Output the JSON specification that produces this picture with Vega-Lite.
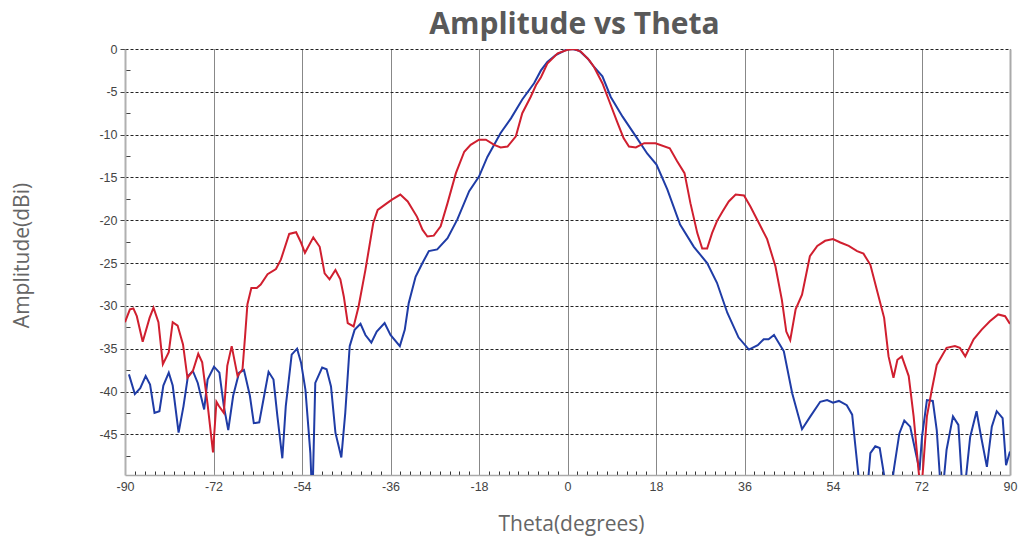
{
 "$schema": "https://vega.github.io/schema/vega-lite/v6.json",
 "width": 885, "height": 426,
 "autosize": {"type": "none"},
 "padding": {"left": 125, "top": 49, "right": 14, "bottom": 64},
 "background": "white",
 "title": {"text": "Amplitude vs Theta", "font": "Open Sans", "fontSize": 30, "fontWeight": "bold", "color": "#595959", "anchor": "middle", "frame": "group", "baseline": "alphabetic", "offset": 16, "dx": 7, "dy": 37},
 "config": {"view": {"stroke": null}},
 "datasets": {
  "red": [
   {"theta":-90,"amp":-31.9},{"theta":-89,"amp":-30.4},{"theta":-88.3,"amp":-30.3},{"theta":-87.6,"amp":-31.2},{"theta":-86.4,"amp":-34.2},{"theta":-85,"amp":-31.4},{"theta":-84.2,"amp":-30.2},{"theta":-83.2,"amp":-31.9},{"theta":-82.3,"amp":-36.8},{"theta":-81.1,"amp":-35.4},{"theta":-80.3,"amp":-31.9},{"theta":-79.3,"amp":-32.3},{"theta":-78.2,"amp":-34.5},{"theta":-77.3,"amp":-38.4},{"theta":-76.2,"amp":-37.6},{"theta":-75.1,"amp":-35.6},{"theta":-74.3,"amp":-36.6},{"theta":-73.2,"amp":-41.5},{"theta":-72.1,"amp":-47.1},{"theta":-71.4,"amp":-41.2},{"theta":-70.9,"amp":-41.7},{"theta":-69.9,"amp":-42.5},{"theta":-69.2,"amp":-37.0},{"theta":-68.3,"amp":-34.7},{"theta":-67.1,"amp":-38.2},{"theta":-66.1,"amp":-37.4},{"theta":-65.6,"amp":-33.7},{"theta":-65.1,"amp":-29.8},{"theta":-64.3,"amp":-27.9},{"theta":-63.2,"amp":-27.9},{"theta":-62.4,"amp":-27.5},{"theta":-61.0,"amp":-26.3},{"theta":-59.3,"amp":-25.7},{"theta":-58.3,"amp":-24.6},{"theta":-56.6,"amp":-21.6},{"theta":-55.2,"amp":-21.4},{"theta":-54.2,"amp":-22.6},{"theta":-53.4,"amp":-23.8},{"theta":-51.7,"amp":-22.0},{"theta":-50.4,"amp":-23.1},{"theta":-49.4,"amp":-26.2},{"theta":-48.4,"amp":-26.9},{"theta":-47.2,"amp":-25.8},{"theta":-46.2,"amp":-26.9},{"theta":-45.5,"amp":-28.9},{"theta":-44.7,"amp":-32.0},{"theta":-43.5,"amp":-32.4},{"theta":-42.5,"amp":-30.1},{"theta":-41.1,"amp":-25.8},{"theta":-39.5,"amp":-20.3},{"theta":-38.6,"amp":-18.8},{"theta":-36.7,"amp":-18.0},{"theta":-35.7,"amp":-17.6},{"theta":-34.0,"amp":-17.0},{"theta":-32.5,"amp":-17.8},{"theta":-30.6,"amp":-19.6},{"theta":-29.5,"amp":-21.1},{"theta":-28.5,"amp":-21.9},{"theta":-27.2,"amp":-21.8},{"theta":-25.8,"amp":-20.7},{"theta":-24.4,"amp":-18.0},{"theta":-22.7,"amp":-14.5},{"theta":-21.0,"amp":-12.0},{"theta":-19.7,"amp":-11.2},{"theta":-18.0,"amp":-10.6},{"theta":-16.6,"amp":-10.6},{"theta":-14.9,"amp":-11.2},{"theta":-13.6,"amp":-11.5},{"theta":-12.2,"amp":-11.4},{"theta":-10.5,"amp":-10.2},{"theta":-9.2,"amp":-7.5},{"theta":-7.5,"amp":-5.6},{"theta":-6.4,"amp":-4.2},{"theta":-5.4,"amp":-3.3},{"theta":-4.1,"amp":-1.7},{"theta":-2.0,"amp":-0.5},{"theta":0,"amp":-0.1},{"theta":1.4,"amp":0},{"theta":2.7,"amp":-0.3},{"theta":4.4,"amp":-1.3},{"theta":5.4,"amp":-2.1},{"theta":7.1,"amp":-4.0},{"theta":8.5,"amp":-6.1},{"theta":10.1,"amp":-8.5},{"theta":11.4,"amp":-10.4},{"theta":12.5,"amp":-11.4},{"theta":13.9,"amp":-11.5},{"theta":15.6,"amp":-11.0},{"theta":17.9,"amp":-11.0},{"theta":20.8,"amp":-11.6},{"theta":22.3,"amp":-13.1},{"theta":23.8,"amp":-14.5},{"theta":25.0,"amp":-18.0},{"theta":26.4,"amp":-21.5},{"theta":27.4,"amp":-23.3},{"theta":28.4,"amp":-23.3},{"theta":29.4,"amp":-21.5},{"theta":30.4,"amp":-20.1},{"theta":31.5,"amp":-19.0},{"theta":32.8,"amp":-17.8},{"theta":34.2,"amp":-17.0},{"theta":35.9,"amp":-17.1},{"theta":37.2,"amp":-18.4},{"theta":38.9,"amp":-20.3},{"theta":40.6,"amp":-22.2},{"theta":42.3,"amp":-25.4},{"theta":43.6,"amp":-29.3},{"theta":44.5,"amp":-33.0},{"theta":45.3,"amp":-34.0},{"theta":46.4,"amp":-30.4},{"theta":47.7,"amp":-28.7},{"theta":49.3,"amp":-24.2},{"theta":50.8,"amp":-23.0},{"theta":52.4,"amp":-22.4},{"theta":54.0,"amp":-22.2},{"theta":55.5,"amp":-22.6},{"theta":57.2,"amp":-23.0},{"theta":58.9,"amp":-23.6},{"theta":60.2,"amp":-23.9},{"theta":61.6,"amp":-25.2},{"theta":62.9,"amp":-28.1},{"theta":64.4,"amp":-31.4},{"theta":65.3,"amp":-35.9},{"theta":66.3,"amp":-38.4},{"theta":67.1,"amp":-36.3},{"theta":68.0,"amp":-35.9},{"theta":69.4,"amp":-38.2},{"theta":70.4,"amp":-42.9},{"theta":71.4,"amp":-49.2},{"theta":71.9,"amp":-52},{"theta":72.4,"amp":-48.4},{"theta":73.1,"amp":-42.9},{"theta":74.1,"amp":-39.8},{"theta":75.1,"amp":-36.9},{"theta":77.1,"amp":-34.9},{"theta":78.8,"amp":-34.7},{"theta":79.8,"amp":-34.9},{"theta":80.9,"amp":-35.9},{"theta":82.6,"amp":-33.9},{"theta":84.2,"amp":-32.8},{"theta":85.9,"amp":-31.8},{"theta":87.6,"amp":-31.0},{"theta":89.0,"amp":-31.2},{"theta":90.0,"amp":-32.1}
  ],
  "blue": [
   {"theta":-89.2,"amp":-38.0},{"theta":-88.0,"amp":-40.3},{"theta":-86.9,"amp":-39.6},{"theta":-85.8,"amp":-38.2},{"theta":-84.9,"amp":-39.2},{"theta":-84.0,"amp":-42.5},{"theta":-83.0,"amp":-42.3},{"theta":-82.2,"amp":-39.3},{"theta":-81.1,"amp":-37.8},{"theta":-80.3,"amp":-39.3},{"theta":-79.1,"amp":-44.8},{"theta":-78.1,"amp":-41.7},{"theta":-77.2,"amp":-38.2},{"theta":-76.2,"amp":-37.6},{"theta":-75.2,"amp":-39.0},{"theta":-73.9,"amp":-42.1},{"theta":-73.2,"amp":-38.6},{"theta":-71.9,"amp":-37.1},{"theta":-70.8,"amp":-37.8},{"theta":-69.9,"amp":-41.7},{"theta":-69.0,"amp":-44.5},{"theta":-68.0,"amp":-40.5},{"theta":-66.8,"amp":-37.8},{"theta":-65.8,"amp":-37.5},{"theta":-64.6,"amp":-40.5},{"theta":-63.8,"amp":-43.7},{"theta":-62.7,"amp":-43.6},{"theta":-61.7,"amp":-40.5},{"theta":-60.8,"amp":-37.7},{"theta":-59.8,"amp":-38.6},{"theta":-59.0,"amp":-42.9},{"theta":-58.0,"amp":-47.8},{"theta":-57.3,"amp":-41.7},{"theta":-56.1,"amp":-35.7},{"theta":-55.0,"amp":-35.0},{"theta":-54.2,"amp":-36.6},{"theta":-53.3,"amp":-39.8},{"theta":-52.3,"amp":-47.2},{"theta":-51.9,"amp":-53},{"theta":-51.3,"amp":-39.0},{"theta":-49.9,"amp":-37.2},{"theta":-49.0,"amp":-37.4},{"theta":-48.1,"amp":-39.4},{"theta":-47.2,"amp":-44.8},{"theta":-46.0,"amp":-47.7},{"theta":-45.2,"amp":-42.5},{"theta":-44.3,"amp":-34.7},{"theta":-43.3,"amp":-32.8},{"theta":-42.1,"amp":-32.1},{"theta":-41.1,"amp":-33.4},{"theta":-39.9,"amp":-34.3},{"theta":-38.8,"amp":-33.0},{"theta":-37.2,"amp":-32.0},{"theta":-36.0,"amp":-33.4},{"theta":-34.1,"amp":-34.7},{"theta":-33.1,"amp":-32.8},{"theta":-32.3,"amp":-29.7},{"theta":-30.9,"amp":-26.6},{"theta":-29.5,"amp":-25.0},{"theta":-28.2,"amp":-23.6},{"theta":-26.5,"amp":-23.4},{"theta":-24.4,"amp":-22.1},{"theta":-22.4,"amp":-19.9},{"theta":-20.0,"amp":-16.6},{"theta":-18.0,"amp":-14.9},{"theta":-16.3,"amp":-12.6},{"theta":-13.6,"amp":-9.8},{"theta":-11.5,"amp":-8.1},{"theta":-9.2,"amp":-5.9},{"theta":-6.8,"amp":-4.0},{"theta":-5.4,"amp":-2.5},{"theta":-4.1,"amp":-1.5},{"theta":-2.4,"amp":-0.7},{"theta":-0.3,"amp":-0.1},{"theta":1.0,"amp":0},{"theta":2.4,"amp":-0.2},{"theta":4.1,"amp":-1.1},{"theta":5.4,"amp":-2.1},{"theta":7.1,"amp":-3.2},{"theta":8.8,"amp":-5.6},{"theta":11.2,"amp":-7.9},{"theta":13.9,"amp":-10.2},{"theta":16.2,"amp":-12.2},{"theta":18.1,"amp":-13.5},{"theta":20.3,"amp":-16.4},{"theta":22.9,"amp":-20.5},{"theta":25.7,"amp":-23.1},{"theta":28.4,"amp":-25.0},{"theta":30.4,"amp":-27.3},{"theta":32.5,"amp":-30.8},{"theta":34.8,"amp":-33.7},{"theta":36.9,"amp":-35.1},{"theta":38.7,"amp":-34.6},{"theta":39.9,"amp":-33.9},{"theta":40.9,"amp":-33.9},{"theta":42.0,"amp":-33.4},{"theta":44.0,"amp":-35.3},{"theta":45.7,"amp":-40.2},{"theta":47.7,"amp":-44.4},{"theta":49.4,"amp":-42.9},{"theta":51.4,"amp":-41.2},{"theta":52.8,"amp":-41.0},{"theta":54.0,"amp":-41.3},{"theta":55.2,"amp":-41.1},{"theta":56.8,"amp":-41.6},{"theta":57.9,"amp":-42.7},{"theta":58.5,"amp":-46.1},{"theta":59.3,"amp":-50.5},{"theta":60.3,"amp":-53},{"theta":61.2,"amp":-50},{"theta":61.6,"amp":-47.2},{"theta":62.6,"amp":-46.4},{"theta":63.5,"amp":-46.6},{"theta":64.6,"amp":-50.5},{"theta":65.5,"amp":-53},{"theta":66.4,"amp":-49},{"theta":67.5,"amp":-44.9},{"theta":68.5,"amp":-43.4},{"theta":69.7,"amp":-44.1},{"theta":70.7,"amp":-46.8},{"theta":71.6,"amp":-49.2},{"theta":72.1,"amp":-45.3},{"theta":73.1,"amp":-41.0},{"theta":74.3,"amp":-41.1},{"theta":75.1,"amp":-44.5},{"theta":76.1,"amp":-53},{"theta":77.1,"amp":-46.8},{"theta":78.4,"amp":-42.9},{"theta":79.5,"amp":-43.9},{"theta":80.5,"amp":-53},{"theta":81.9,"amp":-45.3},{"theta":83.2,"amp":-42.3},{"theta":84.0,"amp":-44.9},{"theta":85.3,"amp":-48.8},{"theta":86.3,"amp":-44.1},{"theta":87.3,"amp":-42.3},{"theta":88.5,"amp":-43.1},{"theta":89.2,"amp":-48.6},{"theta":90.0,"amp":-47.0}
  ]
 },
 "encoding": {
  "x": {"field": "theta", "type": "quantitative",
   "scale": {"domain": [-90, 90], "nice": false, "zero": false},
   "axis": {
    "values": [-90,-88,-86,-84,-82,-80,-78,-76,-74,-72,-70,-68,-66,-64,-62,-60,-58,-56,-54,-52,-50,-48,-46,-44,-42,-40,-38,-36,-34,-32,-30,-28,-26,-24,-22,-20,-18,-16,-14,-12,-10,-8,-6,-4,-2,0,2,4,6,8,10,12,14,16,18,20,22,24,26,28,30,32,34,36,38,40,42,44,46,48,50,52,54,56,58,60,62,64,66,68,70,72,74,76,78,80,82,84,86,88,90],
    "title": "Theta(degrees)", "titleX": 446, "titleY": 55, "titleBaseline": "alphabetic", "titleAlign": "center",
    "titleFont": "Open Sans", "titleFontSize": 21, "titleFontWeight": "normal", "titleColor": "#666666",
    "labelExpr": "datum.value % 18 === 0 ? '' + datum.value : ''",
    "labelFont": "Liberation Sans", "labelFontSize": 12.5, "labelColor": "#444444",
    "labelFlush": false, "labelOverlap": false, "labelPadding": 5,
    "tickSize": {"condition": {"test": "datum.value % 18 !== 0", "value": -4}, "value": 0},
    "tickColor": "#333333", "tickWidth": 1,
    "grid": true, "gridColor": "#111111", "gridDash": [1, 1], "gridWidth": 1,
    "gridOpacity": {"condition": {"test": "datum.value % 18 !== 0", "value": 0}, "value": 1},
    "domainColor": "#aaaaaa", "domainWidth": 1.5
   }
  }
 },
 "layer": [
  {
   "data": {"name": "blue"},
   "mark": {"type": "line", "color": "#1f3ca6", "strokeWidth": 2, "clip": true},
   "encoding": {
    "y": {"field": "amp", "type": "quantitative",
     "scale": {"domain": [-49.75, 0], "nice": false, "zero": false},
     "axis": {
      "values": [0,-2.5,-5,-7.5,-10,-12.5,-15,-17.5,-20,-22.5,-25,-27.5,-30,-32.5,-35,-37.5,-40,-42.5,-45,-47.5],
      "title": "Amplitude(dBi)", "titleX": -103, "titleY": 206, "titleAngle": 270, "titleBaseline": "middle", "titleAlign": "center",
      "titleFont": "Open Sans", "titleFontSize": 21, "titleFontWeight": "normal", "titleColor": "#666666",
      "labelExpr": "datum.value % 5 === 0 ? '' + datum.value : ''",
      "labelFont": "Liberation Sans", "labelFontSize": 12.5, "labelColor": "#444444",
      "labelOverlap": false, "labelPadding": 3,
      "tickSize": {"condition": {"test": "datum.value % 5 !== 0", "value": -5}, "value": 5},
      "tickColor": "#444444", "tickWidth": 1,
      "grid": true, "gridColor": "#222222", "gridDash": [3, 2], "gridWidth": 1,
      "gridOpacity": {"condition": {"test": "datum.value % 5 !== 0", "value": 0}, "value": 1},
      "domainColor": "#b0b0b0", "domainWidth": 2
     }
    }
   }
  },
  {
   "data": {"name": "red"},
   "mark": {"type": "line", "color": "#d01f2f", "strokeWidth": 2, "clip": true},
   "encoding": {
    "y": {"field": "amp", "type": "quantitative",
     "scale": {"domain": [-49.75, 0], "nice": false, "zero": false},
     "axis": {"orient": "right", "labels": false, "ticks": false, "grid": false, "title": null, "domainColor": "#aaaaaa", "domainWidth": 2}
    }
   }
  }
 ],
 "resolve": {"axis": {"y": "independent"}}
}
